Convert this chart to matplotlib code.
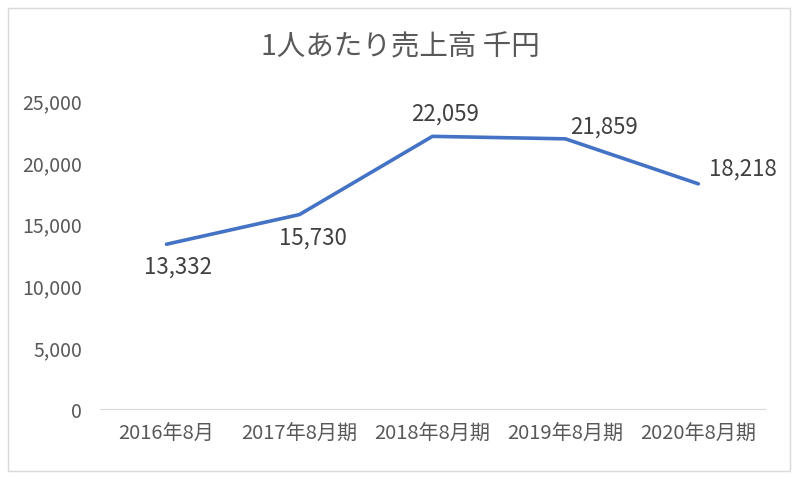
import matplotlib
matplotlib.use("Agg")
import matplotlib.pyplot as plt
from matplotlib.patches import Rectangle

plt.rcParams['font.family'] = ['Noto Sans CJK JP', 'DejaVu Sans']

categories = ["2016年8月", "2017年8月期", "2018年8月期", "2019年8月期", "2020年8月期"]
values = [13332, 15730, 22059, 21859, 18218]
yticks = [0, 5000, 10000, 15000, 20000, 25000]

# label offsets in points (dx, dy)
offsets = [(8, -16), (10, -16.5), (9, 17), (28, 9.5), (32, 11)]

fig = plt.figure(figsize=(8, 4.81), dpi=100)
fig.patches.append(Rectangle((8 / 800, 9 / 481), 782 / 800, 463 / 481,
                             transform=fig.transFigure, fill=False,
                             edgecolor="#d9d9d9", linewidth=1))

ax = fig.add_axes([0.125, 0.1476, 0.831, 0.6424])
x = range(len(categories))
ax.plot(x, values, color="#4472C4", linewidth=2.6, solid_capstyle="round")

for i, v in enumerate(values):
    dx, dy = offsets[i]
    ax.annotate(f"{v:,}", (i, v), xytext=(dx, dy), textcoords="offset points",
                ha="center", va="center", fontsize=16, color="#404040")

ax.set_xlim(-0.5, len(categories) - 0.5)
ax.set_ylim(0, 25000)
ax.set_yticks(yticks)
ax.set_yticklabels([f"{t:,}" for t in yticks], fontsize=14, color="#595959")
ax.set_xticks(list(x))
ax.set_xticklabels(categories, fontsize=14.5, color="#595959")
ax.tick_params(length=0, pad=13, axis="y")
ax.tick_params(length=0, pad=10, axis="x")

for s in ["top", "right", "left"]:
    ax.spines[s].set_visible(False)
ax.spines["bottom"].set_color("#d9d9d9")

fig.text(0.5, 0.902, "1人あたり売上高 千円", ha="center", va="center",
         fontsize=20.5, color="#595959")

fig.savefig("out.png", dpi=100)
